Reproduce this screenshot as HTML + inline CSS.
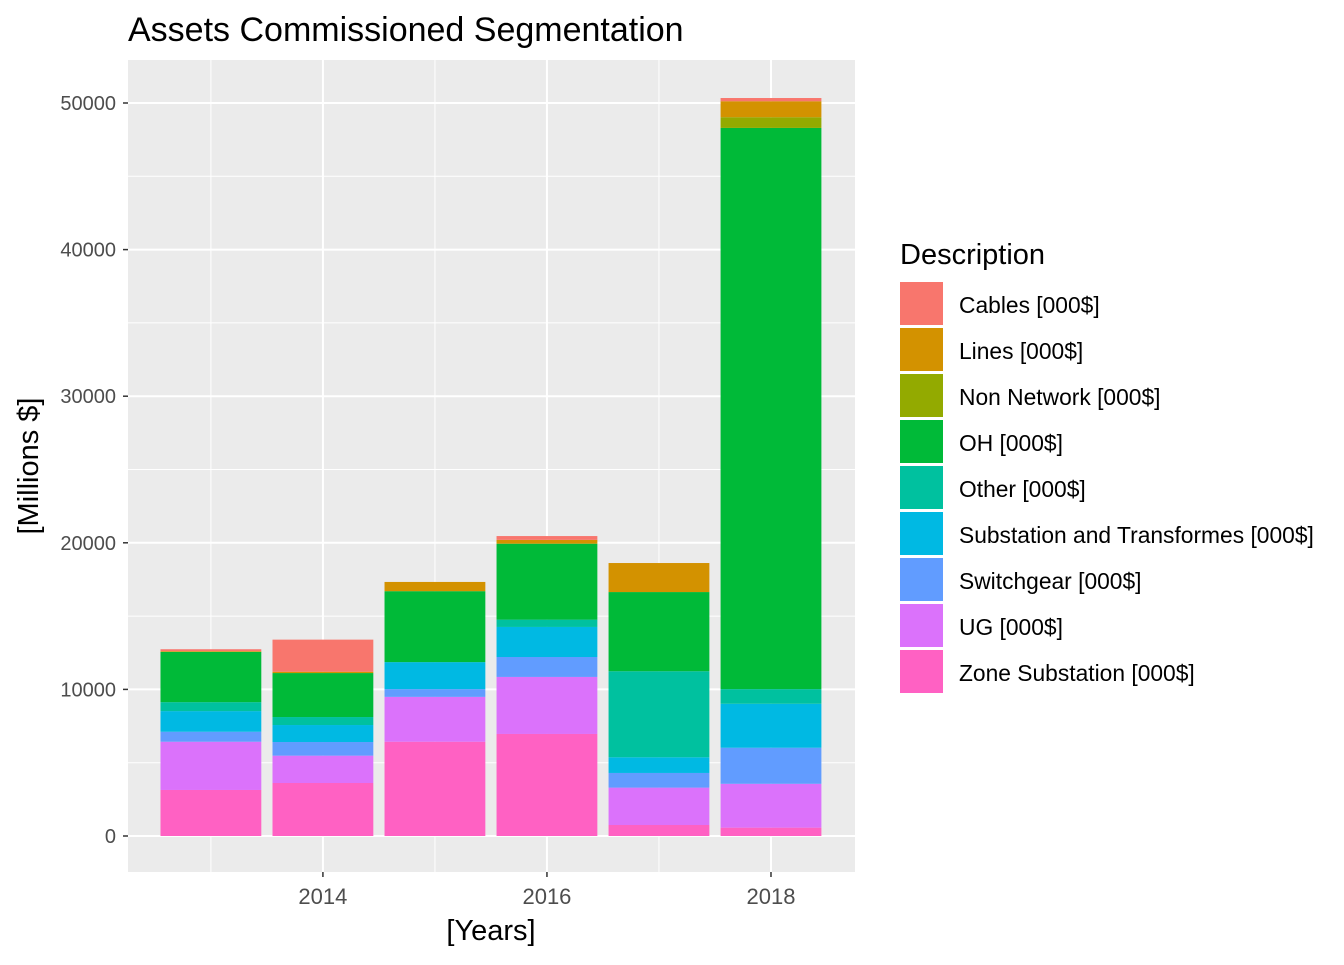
<!DOCTYPE html>
<html><head><meta charset="utf-8"><style>
body{margin:0;background:#fff;font-family:"Liberation Sans",Arial,sans-serif}
</style></head><body>
<svg id="c" width="1344" height="960" xmlns="http://www.w3.org/2000/svg"></svg>
<script>
const years=[2013,2014,2015,2016,2017,2018];
const seriesNames=["Zone Substation [000$]","UG [000$]","Switchgear [000$]","Substation and Transformes [000$]","Other [000$]","OH [000$]","Non Network [000$]","Lines [000$]","Cables [000$]"];
const seriesColors=["#FF61C3","#DB72FB","#619CFF","#00B9E3","#00C19F","#00BA38","#93AA00","#D39200","#F8766D"];
const zoneSub=[3140,3615,6430,6960,750,570];
const ug=[3290,1865,3060,3890,2550,2990];
const switchgear=[680,930,530,1360,1000,2460];
const substation=[1410,1160,1840,2050,1070,3000];
const other=[610,545,0,500,5870,1000];
const oh=[3430,3000,4840,5180,5400,38280];
const nonNetwork=[0,0,0,0,0,730];
const lines=[50,90,630,260,1980,1090];
const cables=[130,2190,0,260,0,220];
const yTicks=[0,10000,20000,30000,40000,50000];
const xTicks=[2014,2016,2018];
const series=[zoneSub,ug,switchgear,substation,other,oh,nonNetwork,lines,cables];
const NS="http://www.w3.org/2000/svg",svg=document.getElementById('c');
const P={l:128,r:855,t:60,b:872};
const xs=v=>P.l+(v-2012.26)/(2018.75-2012.26)*(P.r-P.l);
const ys=v=>836-v*(836-103)/50000;
function el(t,a,p){const e=document.createElementNS(NS,t);for(const k in a)e.setAttribute(k,a[k]);(p||svg).appendChild(e);return e;}
const panel=el('rect',{x:P.l,y:P.t,width:P.r-P.l,height:P.b-P.t,fill:'#EBEBEB'});


for(let v=-5000;v<=55000;v+=5000){const y=ys(v);if(y<P.t||y>P.b)continue;const major=v%10000===0;
 const g=el('line',{x1:P.l,x2:P.r,y1:y,y2:y,stroke:'#fff','stroke-width':major?2:1});
 
 }
for(let v=2013;v<=2018;v++){const x=xs(v);const major=v%2===0;
 const g=el('line',{x1:x,x2:x,y1:P.t,y2:P.b,stroke:'#fff','stroke-width':major?2:1});
 
 }
const bw=(xs(1)-xs(0))*0.9;
years.forEach((yr,i)=>{let cum=0;series.forEach((s,j)=>{const v=s[i];if(v<=0)return;
 const r=el('rect',{x:xs(yr)-bw/2,y:ys(cum+v),width:bw,height:ys(cum)-ys(cum+v),fill:seriesColors[j]});
 
 
 cum+=v;});});
yTicks.forEach(v=>{const y=ys(v);
 el('line',{x1:P.l-5,x2:P.l,y1:y,y2:y,stroke:'#333','stroke-width':1.5});
 const t=el('text',{x:P.l-12,y:y+7,'text-anchor':'end','font-size':20,fill:'#4D4D4D'});t.textContent=v;
 
 });
xTicks.forEach(v=>{const x=xs(v);
 el('line',{x1:x,x2:x,y1:P.b,y2:P.b+5,stroke:'#333','stroke-width':1.5});
 const t=el('text',{x:x,y:P.b+32,'text-anchor':'middle','font-size':22,fill:'#4D4D4D'});t.textContent=v;
 
 });
let t=el('text',{x:128,y:41,'font-size':34,fill:'#000'});t.textContent='Assets Commissioned Segmentation';


t=el('text',{x:491,y:940,'text-anchor':'middle','font-size':29,fill:'#000'});t.textContent='[Years]';


t=el('text',{x:0,y:0,'text-anchor':'middle','font-size':29,fill:'#000',transform:'translate(38,466) rotate(-90)'});t.textContent='[Millions $]';


t=el('text',{x:900,y:264,'font-size':29,fill:'#000'});t.textContent='Description';


for(let k=0;k<9;k++){const j=8-k;const y=282+k*46;
 const g=el('g',{});
 
 
 el('rect',{x:900,y:y,width:43,height:43,fill:seriesColors[j]},g);
 const tt=el('text',{x:959,y:y+31,'font-size':22.8,fill:'#000'},g);tt.textContent=seriesNames[j];}
</script>
</body></html>
